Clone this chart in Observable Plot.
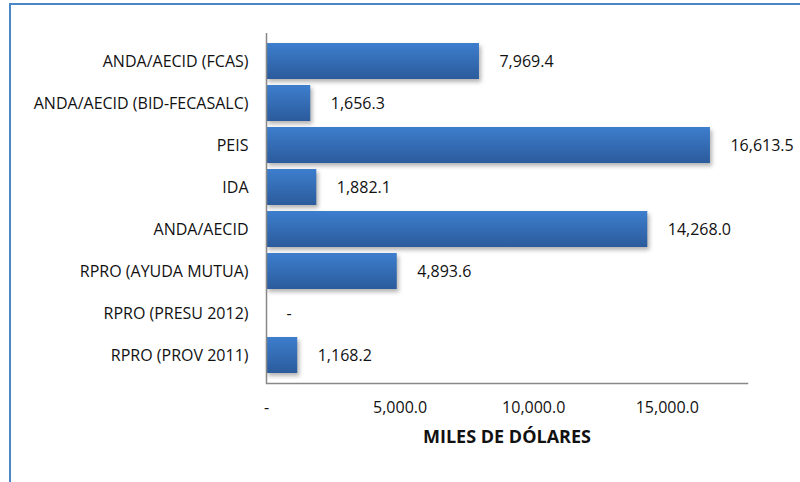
<!DOCTYPE html>
<html>
<head>
<meta charset="utf-8">
<script src="https://cdn.jsdelivr.net/npm/d3@7"></script>
<script src="https://cdn.jsdelivr.net/npm/@observablehq/plot@0.6"></script>
<style>
  html, body { margin: 0; padding: 0; background: #fff; overflow: hidden; }
  #wrap { position: relative; width: 800px; height: 482px; overflow: hidden; }
  #border { position: absolute; left: 9px; top: 3px; width: 900px; height: 600px;
            border-left: 2px solid #4a86c8; border-top: 2px solid #4a86c8; }
  #chart { position: absolute; left: 0; top: 0; }
  svg { font-family: "Open Sans", "Noto Sans", sans-serif; }
</style>
</head>
<body>
<div id="wrap"><div id="border"></div><div id="chart"></div></div>
<script>
const categories = [
  "ANDA/AECID (FCAS)",
  "ANDA/AECID (BID-FECASALC)",
  "PEIS",
  "IDA",
  "ANDA/AECID",
  "RPRO (AYUDA MUTUA)",
  "RPRO (PRESU 2012)",
  "RPRO (PROV 2011)"
];
const values = [7969.4, 1656.3, 16613.5, 1882.1, 14268.0, 4893.6, 0, 1168.2];
const xTicks = [0, 5000, 10000, 15000];
const xTitle = "MILES DE DÓLARES";

const data = categories.map((c, i) => ({ cat: c, value: values[i] }));
const fmt = v => v === 0 ? "-" : d3.format(",.1f")(v);

const plot = Plot.plot({
  width: 800,
  height: 482,
  marginLeft: 266,
  marginRight: 53,
  marginTop: 33,
  marginBottom: 99,
  style: { fontSize: "16px", color: "#111", background: "transparent" },
  x: { domain: [0, 18000], label: null },
  y: { domain: categories, padding: 0.14, label: null },
  marks: [
    Plot.barX(data, { y: "cat", x: "value", fill: "url(#barGrad)" }),
    Plot.text(data, { y: "cat", x: "value", text: d => fmt(d.value), dx: 20, textAnchor: "start", fontSize: 16, fill: "#111" }),
    Plot.axisY({ tickSize: 0, tickPadding: 18, fontSize: 16 }),
    Plot.axisX({ ticks: xTicks, tickFormat: fmt, tickSize: 0, tickPadding: 18, fontSize: 16 }),
    Plot.ruleX([0], { stroke: "#888", strokeWidth: 1.5 }),
    Plot.frame({ anchor: "bottom", stroke: "#888", strokeWidth: 1.5 }),
    Plot.text([xTitle], { frameAnchor: "bottom", dy: 59, text: d => d, fontWeight: "bold", fontSize: 18, fill: "#111" })
  ]
});

const svg = d3.select(plot);
const defs = svg.insert("defs", ":first-child");
const grad = defs.append("linearGradient").attr("id", "barGrad")
  .attr("x1", 0).attr("y1", 0).attr("x2", 0).attr("y2", 1);
grad.append("stop").attr("offset", "0%").attr("stop-color", "#3d7ecd");
grad.append("stop").attr("offset", "100%").attr("stop-color", "#2b5b9c");
svg.selectAll("g[aria-label='bar']").style("filter", "drop-shadow(2px 3px 2px rgba(0,0,0,0.3))");

document.getElementById("chart").appendChild(plot);
</script>
</body>
</html>
